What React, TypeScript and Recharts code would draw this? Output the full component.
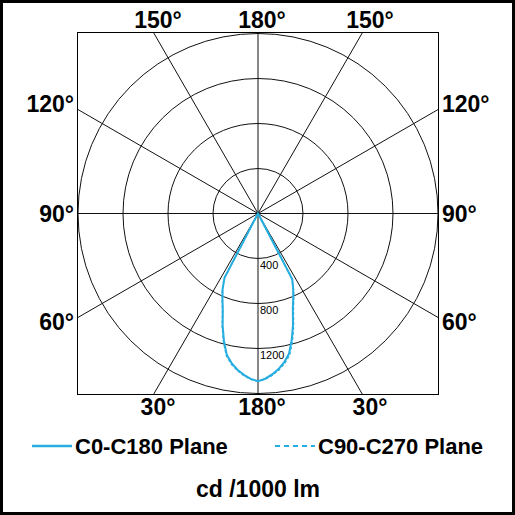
import { PolarAngleAxis, PolarGrid, PolarRadiusAxis, Radar, RadarChart } from 'recharts'

// gamma angle from nadir (deg) and intensity per half-plane, cd / 1000 lm
const gammaAngles = [0, 2.5, 5, 7.5, 10, 12.5, 15, 17.5, 20, 22.5, 25, 27.5, 30, 32.5]
const c180 = [1490, 1472, 1440, 1400, 1350, 1285, 1170, 1045, 915, 825, 745, 645, 15, 0]
const c0 = [1490, 1470, 1436, 1395, 1342, 1275, 1160, 1035, 905, 818, 740, 660, 15, 0]
const c270 = [1492, 1476, 1446, 1408, 1360, 1296, 1184, 1056, 922, 830, 748, 655, 15, 0]
const c90 = [1492, 1474, 1444, 1405, 1355, 1292, 1180, 1052, 920, 828, 748, 650, 15, 0]

const radiusTicks = [0, 400, 800, 1200, 1600]
const gridAngles = [0, 30, 60, 90, 120, 150, 180, 210, 240, 270, 300, 330]

const topLabels = ['150°', '180°', '150°']
const sideLabels = ['120°', '90°', '60°']
const bottomLabels = ['30°', '180°', '30°']

const CYAN = '#27aee0'
const STEP = 2.5

// full turn, clockwise from nadir: left half = C180 / C270, right half = C0 / C90
const rows = Array.from({ length: 360 / STEP }, (_, k) => {
  const t = k * STEP
  const left = t <= 180
  const g = left ? t : 360 - t
  const i = gammaAngles.indexOf(g)
  const pick = (arr: number[]) => (i >= 0 ? arr[i] : 0)
  return {
    a: t,
    c0c180: left ? pick(c180) : pick(c0),
    c90c270: left ? pick(c270) : pick(c90),
  }
})

const RadiusTick = (props: any) => {
  const { x, y, payload } = props
  if (payload.value === 0 || payload.value === 1600) return null
  return (
    <text x={x + 2} y={y + 10} fontSize={11} fill='#000' textAnchor='start' fontFamily='"Liberation Sans", Arial, sans-serif'>
      {payload.value}
    </text>
  )
}

const labelStyle = { fontSize: 23, fontWeight: 700, fill: '#000' }
const chartBox = { position: 'absolute' as const, left: 0, top: 0 }

export default function App() {
  return (
    <div
      style={{
        position: 'fixed',
        left: 0,
        top: 0,
        width: 515,
        height: 515,
        boxSizing: 'border-box',
        border: '3px solid #000',
        background: '#fff',
        fontFamily: '"Liberation Sans", Arial, sans-serif',
      }}
    >
      <svg width={515} height={515} style={{ position: 'absolute', left: -3, top: -3 }}>
        <g style={labelStyle}>
          <text x={158} y={28} textAnchor='middle'>{topLabels[0]}</text>
          <text x={262} y={28} textAnchor='middle'>{topLabels[1]}</text>
          <text x={370} y={28} textAnchor='middle'>{topLabels[2]}</text>
          <text x={74} y={112} textAnchor='end'>{sideLabels[0]}</text>
          <text x={74} y={222} textAnchor='end'>{sideLabels[1]}</text>
          <text x={74} y={330} textAnchor='end'>{sideLabels[2]}</text>
          <text x={442} y={112} textAnchor='start'>{sideLabels[0]}</text>
          <text x={442} y={222} textAnchor='start'>{sideLabels[1]}</text>
          <text x={442} y={330} textAnchor='start'>{sideLabels[2]}</text>
          <text x={158} y={415} textAnchor='middle'>{bottomLabels[0]}</text>
          <text x={262} y={415} textAnchor='middle'>{bottomLabels[1]}</text>
          <text x={370} y={415} textAnchor='middle'>{bottomLabels[2]}</text>
        </g>
        <line x1={32} y1={446} x2={72} y2={446} stroke={CYAN} strokeWidth={2.5} />
        <text x={75} y={454} style={{ ...labelStyle, fontSize: 22 }}>C0-C180 Plane</text>
        <line x1={275} y1={446} x2={315} y2={446} stroke={CYAN} strokeWidth={2} strokeDasharray='5 4' />
        <text x={318} y={454} style={{ ...labelStyle, fontSize: 22 }}>C90-C270 Plane</text>
        <text x={258} y={497} textAnchor='middle' style={labelStyle}>cd /1000 lm</text>
      </svg>
      <div
        style={{
          position: 'absolute',
          left: 74,
          top: 29,
          width: 362,
          height: 363,
          boxSizing: 'border-box',
          border: '1px solid #000',
          overflow: 'hidden',
        }}
      >
        {/* spokes, long enough to reach the frame; clipped by the box */}
        <div style={chartBox}>
          <RadarChart
            width={360}
            height={361}
            data={rows}
            cx='50%'
            cy='50%'
            innerRadius={0}
            outerRadius={240}
            startAngle={-90}
            endAngle={-450}
            margin={{ top: 0, right: 0, bottom: 0, left: 0 }}
          >
            <PolarGrid gridType='circle' stroke='#111' strokeWidth={1} polarAngles={gridAngles} polarRadius={[]} />
            <PolarAngleAxis dataKey='a' type='category' tick={false} tickLine={false} axisLine={false} />
          </RadarChart>
        </div>
        <div style={chartBox}>
          <RadarChart
            width={360}
            height={361}
            data={rows}
            cx='50%'
            cy='50%'
            innerRadius={0}
            outerRadius={180}
            startAngle={-90}
            endAngle={-450}
            margin={{ top: 0, right: 0, bottom: 0, left: 0 }}
          >
            <PolarGrid gridType='circle' stroke='#111' strokeWidth={1} radialLines={false} />
            <PolarAngleAxis dataKey='a' type='category' tick={false} tickLine={false} axisLine={false} />
            <PolarRadiusAxis
              angle={-90}
              domain={[0, 1600]}
              ticks={radiusTicks}
              tick={RadiusTick}
              tickLine={false}
              axisLine={false}
            />
            <Radar
              dataKey='c0c180'
              stroke={CYAN}
              strokeWidth={2}
              fill='none'
              fillOpacity={0}
              dot={false}
              isAnimationActive={false}
            />
            <Radar
              dataKey='c90c270'
              stroke={CYAN}
              strokeWidth={1.5}
              strokeDasharray='3 2'
              fill='none'
              fillOpacity={0}
              dot={false}
              isAnimationActive={false}
            />
          </RadarChart>
        </div>
      </div>
    </div>
  )
}
